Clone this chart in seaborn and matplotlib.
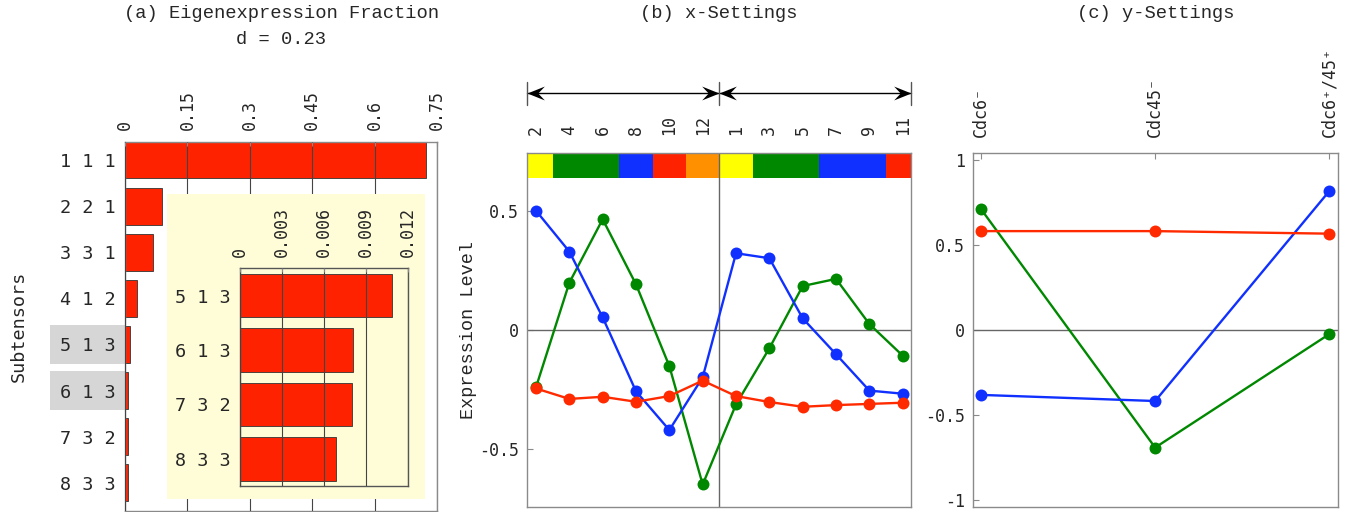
import numpy as np
import pandas as pd
import matplotlib
matplotlib.use("Agg")
import matplotlib.pyplot as plt
import matplotlib.transforms as mtransforms
from matplotlib.patches import Rectangle
from matplotlib.path import Path
import seaborn as sns

# ---------------- data ----------------
subtensor_labels = ["1 1 1", "2 2 1", "3 3 1", "4 1 2", "5 1 3", "6 1 3", "7 3 2", "8 3 3"]
fractions = [0.723, 0.089, 0.067, 0.028, 0.0109, 0.0081, 0.0080, 0.0069]
highlighted = ["5 1 3", "6 1 3"]
frac_ticks = [0, 0.15, 0.3, 0.45, 0.6, 0.75]
frac_ticklabels = ["0", "0.15", "0.3", "0.45", "0.6", "0.75"]

inset_labels = ["5 1 3", "6 1 3", "7 3 2", "8 3 3"]
inset_fractions = [0.01087, 0.00809, 0.00802, 0.00689]
inset_ticks = [0, 0.003, 0.006, 0.009, 0.012]
inset_ticklabels = ["0", "0.003", "0.006", "0.009", "0.012"]

time_labels = ["2", "4", "6", "8", "10", "12", "1", "3", "5", "7", "9", "11"]
x_green = [-0.241, 0.199, 0.466, 0.192, -0.152, -0.650, -0.313, -0.077, 0.185, 0.215, 0.025, -0.108]
x_blue = [0.502, 0.330, 0.053, -0.258, -0.421, -0.199, 0.323, 0.302, 0.049, -0.102, -0.255, -0.268]
x_red = [-0.246, -0.290, -0.281, -0.302, -0.278, -0.213, -0.278, -0.303, -0.323, -0.316, -0.311, -0.306]
phases = ["M/G1", "G1", "G1", "S", "S/G2", "G2/M", "M/G1", "G1", "G1", "S", "S", "S/G2"]
phase_colors = {"M/G1": "#ffff00", "G1": "#008800", "S": "#1030ff", "S/G2": "#ff2200", "G2/M": "#ff9100"}

y_labels = ["Cdc6\u207b", "Cdc45\u207b", "Cdc6\u207a/45\u207a"]
y_green = [0.712, -0.692, -0.024]
y_blue = [-0.382, -0.418, 0.818]
y_red = [0.582, 0.582, 0.567]

# ---------------- style ----------------
sns.set_style("white")
plt.rcParams["font.family"] = ["DejaVu Sans Mono", "DejaVu Sans"]
plt.rcParams["axes.unicode_minus"] = False

RED = "#ff2200"
GREEN = "#008800"
BLUE = "#1030ff"
FRAME = "#8a8a8a"
TICK_FS = 12
LABEL_FS = 13.3
TITLE_FONT = ["Liberation Mono", "DejaVu Sans Mono"]
MS = 8.6
LW = 1.7

fig = plt.figure(figsize=(13.64, 5.12), dpi=100)
W, H = 1364.0, 512.0


def rect(x0, y0, x1, y1):
    return [x0 / W, 1 - y1 / H, (x1 - x0) / W, (y1 - y0) / H]


def frame(ax):
    for s in ax.spines.values():
        s.set_color(FRAME)
        s.set_linewidth(1.0)
        s.set_visible(True)


# ---------------- panel (a) ----------------
ax_a = fig.add_axes(rect(125, 142, 437, 511))
sns.barplot(x=fractions, y=subtensor_labels, orient="h", color=RED, saturation=1,
            edgecolor="#333333", linewidth=0.6, width=0.8, ax=ax_a)
ax_a.set_xlim(0, 0.745)
ax_a.set_ylim(7.61, -0.39)
ax_a.xaxis.tick_top()
ax_a.set_xticks(frac_ticks)
ax_a.set_xticklabels(frac_ticklabels)
ax_a.tick_params(axis="x", labelrotation=90, direction="in", length=3, pad=9,
                 labelsize=TICK_FS, color=FRAME, top=True, bottom=False)
ax_a.tick_params(axis="y", direction="in", length=3, pad=7, labelsize=LABEL_FS, color=FRAME)
ax_a.xaxis.grid(True, color="#444444", linewidth=0.8)
ax_a.set_axisbelow(False)
ax_a.set_xlabel("")
ax_a.set_ylabel("Subtensors", fontsize=LABEL_FS, labelpad=23)
frame(ax_a)

# grey highlight behind selected tick labels
hl_trans = mtransforms.blended_transform_factory(fig.transFigure, ax_a.transData)
for lab in highlighted:
    r = subtensor_labels.index(lab)
    ax_a.add_patch(Rectangle((50 / W, r - 0.425), 75 / W, 0.85, transform=hl_trans,
                             facecolor="#d6d6d6", edgecolor="none", clip_on=False, zorder=0.5))

# light-yellow inset background
fig.patches.append(Rectangle((166.7 / W, 1 - 499 / H), 258.3 / W, 305 / H,
                             transform=fig.transFigure, facecolor="#fffdd8",
                             edgecolor="none", zorder=0.5))

# inset
ax_in = fig.add_axes(rect(240.3, 268.3, 407.7, 486))
ax_in.set_zorder(1)
ax_in.set_facecolor("#fffdd8")
sns.barplot(x=inset_fractions, y=inset_labels, orient="h", color=RED, saturation=1,
            edgecolor="#333333", linewidth=0.6, width=0.8, ax=ax_in)
ax_in.set_xlim(0, 0.012)
ax_in.set_ylim(3.5, -0.5)
ax_in.xaxis.tick_top()
ax_in.set_xticks(inset_ticks)
ax_in.set_xticklabels(inset_ticklabels)
ax_in.tick_params(axis="x", labelrotation=90, direction="in", length=3, pad=8,
                  labelsize=TICK_FS, color=FRAME, top=True, bottom=False)
ax_in.tick_params(axis="y", direction="in", length=3, pad=7, labelsize=LABEL_FS, color=FRAME)
ax_in.xaxis.grid(True, color="#444444", linewidth=0.8)
ax_in.set_axisbelow(False)
ax_in.set_xlabel("")
ax_in.set_ylabel("")
frame(ax_in)
for s in ax_in.spines.values():
    s.set_color("#555555")

# ---------------- panel (b) ----------------
ax_b = fig.add_axes(rect(527, 152.7, 910.7, 507.3))
idx = np.arange(len(time_labels))
# phase colour strip
ax_b.bar(idx, 0.101, bottom=0.638, width=1.0,
         color=[phase_colors[p] for p in phases], linewidth=0, zorder=1)
ax_b.axhline(0, color="#666666", linewidth=1.0, zorder=1.5)
ax_b.axvline(5.5, color="#666666", linewidth=1.0, zorder=1.5)
for vals, col in [(x_green, GREEN), (x_blue, BLUE), (x_red, "#ff2a00")]:
    sns.lineplot(x=idx, y=vals, color=col, marker="o", markersize=MS,
                 markeredgewidth=0, linewidth=LW, ax=ax_b, zorder=3)
ax_b.set_xlim(-0.27, 11.24)
ax_b.set_ylim(-0.746, 0.746)
ax_b.xaxis.tick_top()
ax_b.set_xticks(idx)
ax_b.set_xticklabels(time_labels)
ax_b.set_yticks([-0.5, 0, 0.5])
ax_b.set_yticklabels(["-0.5", "0", "0.5"])
ax_b.tick_params(axis="x", labelrotation=90, direction="in", length=4, pad=13,
                 labelsize=TICK_FS, color=FRAME, top=True, bottom=False)
ax_b.tick_params(axis="y", direction="in", length=4, pad=6, labelsize=TICK_FS,
                 color=FRAME, left=True)
ax_b.set_ylabel("Expression Level", fontsize=LABEL_FS, family=TITLE_FONT, labelpad=1)
frame(ax_b)

# double-headed arrows above (stealth-shaped heads)
tr_b = mtransforms.blended_transform_factory(ax_b.transData, ax_b.transAxes)
x0, x1 = ax_b.get_xlim()
head_left = Path([(0, 0), (1, 0.4), (0.62, 0), (1, -0.4), (0, 0)],
                 [Path.MOVETO, Path.LINETO, Path.LINETO, Path.LINETO, Path.CLOSEPOLY])
head_right = Path([(0, 0), (-1, 0.4), (-0.62, 0), (-1, -0.4), (0, 0)],
                  [Path.MOVETO, Path.LINETO, Path.LINETO, Path.LINETO, Path.CLOSEPOLY])
ya = 1.168
for a, b in [(x0, 5.5), (5.5, x1)]:
    ax_b.plot([a, b], [ya, ya], transform=tr_b, color="black", lw=1.0, clip_on=False)
    ax_b.plot([a], [ya], transform=tr_b, marker=head_left, ms=25, color="black",
              mew=0, clip_on=False, linestyle="none")
    ax_b.plot([b], [ya], transform=tr_b, marker=head_right, ms=25, color="black",
              mew=0, clip_on=False, linestyle="none")
for xv in [x0, 5.5, x1]:
    ax_b.plot([xv, xv], [1.135, 1.2], transform=tr_b, color="#555555", lw=1.0, clip_on=False)

# ---------------- panel (c) ----------------
ax_c = fig.add_axes(rect(973.3, 153.3, 1337.7, 506.7))
pos = np.arange(len(y_labels))
ax_c.axhline(0, color="#666666", linewidth=1.0, zorder=1.5)
for vals, col in [(y_green, GREEN), (y_blue, BLUE), (y_red, "#ff2a00")]:
    sns.lineplot(x=pos, y=vals, color=col, marker="o", markersize=MS,
                 markeredgewidth=0, linewidth=LW, ax=ax_c, zorder=3)
ax_c.set_xlim(-0.044, 2.048)
ax_c.set_ylim(-1.04, 1.04)
ax_c.xaxis.tick_top()
ax_c.set_xticks(pos)
ax_c.set_xticklabels(y_labels)
ax_c.set_yticks([-1, -0.5, 0, 0.5, 1])
ax_c.set_yticklabels(["-1", "-0.5", "0", "0.5", "1"])
ax_c.tick_params(axis="x", labelrotation=90, direction="in", length=4, pad=12,
                 labelsize=TICK_FS, color=FRAME, top=True, bottom=False)
ax_c.tick_params(axis="y", direction="in", length=4, pad=6, labelsize=TICK_FS,
                 color=FRAME, left=True)
frame(ax_c)

# ---------------- titles ----------------
TFS = 13.5
fig.text(281 / W, 1 - 14 / H, "(a) Eigenexpression Fraction", ha="center", va="center",
         fontsize=TFS, family=TITLE_FONT)
fig.text(281 / W, 1 - 40 / H, "d = 0.23", ha="center", va="center",
         fontsize=TFS, family=TITLE_FONT)
fig.text(719 / W, 1 - 14 / H, "(b) x-Settings", ha="center", va="center",
         fontsize=TFS, family=TITLE_FONT)
fig.text(1156 / W, 1 - 14 / H, "(c) y-Settings", ha="center", va="center",
         fontsize=TFS, family=TITLE_FONT)

fig.savefig("out.png", dpi=100)
